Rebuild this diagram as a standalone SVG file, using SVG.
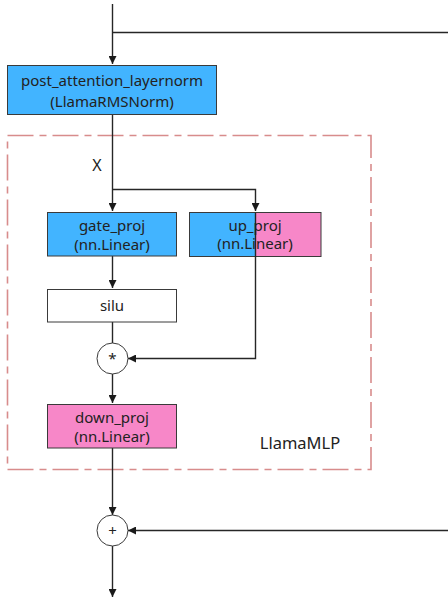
<svg xmlns="http://www.w3.org/2000/svg" width="448" height="604" viewBox="0 0 448 604">
<defs>
<marker id="arr" viewBox="0 0 10 10" refX="10" refY="5" markerWidth="8" markerHeight="8" markerUnits="userSpaceOnUse" orient="auto">
<path d="M0,0 L10,5 L0,10 z" fill="#1a1a1a"/>
</marker>
<style>
.ln{fill:none;stroke:#262626;stroke-width:1.4}
.bx{stroke:#3a3a3a;stroke-width:1}
.t{font-family:"Noto Sans","Open Sans",sans-serif;font-size:15px;fill:#222;text-anchor:middle}
.blue{fill:#42b4ff}
.pink{fill:#f787c8}
</style>
</defs>
<rect width="448" height="604" fill="#fff"/>
<g id="mlp">
<rect x="7.5" y="135.5" width="363.5" height="334" fill="none" stroke="#d88c8c" stroke-width="1.6" stroke-dasharray="26,6,7,6"/>
<text class="t" x="300" y="449" style="font-size:16.5px">LlamaMLP</text>
</g>
<g id="connectors">
<path class="ln" d="M112.5,4 V64" marker-end="url(#arr)"/>
<path class="ln" d="M112.5,32.5 H448"/>
<path class="ln" d="M112.5,115 V211" marker-end="url(#arr)"/>
<path class="ln" d="M112.5,189.5 H255.5 V211" marker-end="url(#arr)"/>
<path class="ln" d="M112.5,256 V288" marker-end="url(#arr)"/>
<path class="ln" d="M112.5,322 V343"/>
<path class="ln" d="M255.5,257 V358.5 H128" marker-end="url(#arr)"/>
<path class="ln" d="M112.5,374 V403" marker-end="url(#arr)"/>
<path class="ln" d="M112.5,448 V515" marker-end="url(#arr)"/>
<path class="ln" d="M448,530.5 H128" marker-end="url(#arr)"/>
<path class="ln" d="M112.5,546 V597" marker-end="url(#arr)"/>
</g>
<g id="post_attention_layernorm">
<rect class="bx blue" x="7.5" y="65.5" width="209" height="49"/>
<text class="t" x="112" y="86">post_attention_layernorm</text>
<text class="t" x="112" y="107">(LlamaRMSNorm)</text>
</g>
<text id="x_label" class="t" x="97" y="171" style="font-size:16px">X</text>
<g id="gate_proj">
<rect class="bx blue" x="47.5" y="212.5" width="129" height="43.5"/>
<text class="t" x="112" y="231">gate_proj</text>
<text class="t" x="112" y="250">(nn.Linear)</text>
</g>
<g id="up_proj">
<rect class="blue" x="189.5" y="212.5" width="66" height="44"/>
<rect class="pink" x="255.5" y="212.5" width="65.5" height="44"/>
<rect class="bx" x="189.5" y="212.5" width="131.5" height="44" fill="none"/>
<path class="ln" d="M255.5,212.5 V257"/>
<text class="t" x="255" y="231">up_proj</text>
<text class="t" x="255" y="249">(nn.Linear)</text>
</g>
<g id="silu">
<rect class="bx" x="47.5" y="289.5" width="129" height="32.5" fill="#fff"/>
<text class="t" x="112" y="311">silu</text>
</g>
<g id="mul">
<circle cx="112.5" cy="358.5" r="15.5" fill="#fff" stroke="#3a3a3a" stroke-width="1"/>
<text class="t" x="112.5" y="364">*</text>
</g>
<g id="down_proj">
<rect class="bx pink" x="47.5" y="404.5" width="129" height="43.5"/>
<text class="t" x="112" y="423">down_proj</text>
<text class="t" x="112" y="442">(nn.Linear)</text>
</g>
<g id="add">
<circle cx="112.5" cy="530.5" r="15.5" fill="#fff" stroke="#3a3a3a" stroke-width="1"/>
<text class="t" x="112.5" y="535.5">+</text>
</g>
</svg>
